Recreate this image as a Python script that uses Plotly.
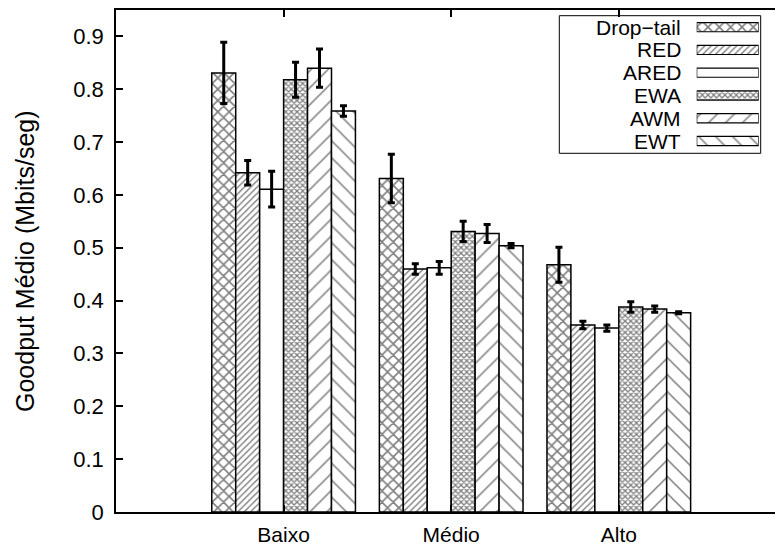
import plotly.graph_objects as go

# ---- data ----
categories = ["Baixo", "Médio", "Alto"]
series_names = ["Drop−tail", "RED", "ARED", "EWA", "AWM", "EWT"]

drop_tail = [0.831, 0.631, 0.468]
red = [0.642, 0.460, 0.354]
ared = [0.611, 0.462, 0.348]
ewa = [0.818, 0.531, 0.388]
awm = [0.840, 0.527, 0.384]
ewt = [0.759, 0.504, 0.377]

drop_tail_err = [0.058, 0.046, 0.033]
red_err = [0.023, 0.010, 0.007]
ared_err = [0.034, 0.012, 0.006]
ewa_err = [0.033, 0.019, 0.010]
awm_err = [0.036, 0.017, 0.006]
ewt_err = [0.010, 0.004, 0.002]

y_ticks = [0, 0.1, 0.2, 0.3, 0.4, 0.5, 0.6, 0.7, 0.8, 0.9]
y_ticktext = ["0", "0.1", "0.2", "0.3", "0.4", "0.5", "0.6", "0.7", "0.8", "0.9"]

values = [drop_tail, red, ared, ewa, awm, ewt]
errors = [drop_tail_err, red_err, ared_err, ewa_err, awm_err, ewt_err]

# pattern styles per series
pat_shape = ["x", "/", "", "x", "/", "\\"]
pat_size = [8, 4.5, 8, 4, 12, 12]
pat_solid = [0.36, 0.32, 0.1, 0.55, 0.13, 0.13]

FONT = "Liberation Sans, Arial, Helvetica, sans-serif"
W, H = 775, 548
L, R, T, B = 116, 0, 10, 36
pw, ph = W - L - R, H - T - B

def px_x(x):
    return (x - L) / pw

def px_y(y):
    return (H - B - y) / ph

fig = go.Figure()
xpos = [1, 2, 3]
for i, name in enumerate(series_names):
    fig.add_trace(go.Bar(
        x=xpos, y=values[i], name=name, showlegend=False,
        marker=dict(
            color="white",
            line=dict(color="black", width=1.5),
            pattern=dict(shape=pat_shape[i], size=pat_size[i], solidity=pat_solid[i],
                         fgcolor="black", bgcolor="white", fillmode="overlay"),
        ),
        error_y=dict(type="data", array=errors[i], visible=True,
                     color="black", thickness=3, width=3.5),
    ))

# legend samples (drawn as horizontal bars on a hidden sub-axis)
fig.add_trace(go.Bar(
    x=[1] * len(series_names), y=list(range(len(series_names))), orientation="h",
    width=0.4, xaxis="x2", yaxis="y2", showlegend=False,
    marker=dict(
        color="white",
        line=dict(color="black", width=1.2),
        pattern=dict(shape=pat_shape, size=pat_size, solidity=pat_solid,
                     fgcolor="black", bgcolor="white", fillmode="overlay"),
    ),
    hoverinfo="skip",
))

row0, row_step = 27.2, 22.76
annotations = []
for i, name in enumerate(series_names):
    annotations.append(dict(
        x=px_x(682), y=px_y(row0 + i * row_step), xref="paper", yref="paper",
        text=name, showarrow=False, xanchor="right", yanchor="middle",
        borderpad=0,
        font=dict(family=FONT, size=21, color="black"),
    ))
annotations.append(dict(
    x=px_x(25), y=0.5, xref="paper", yref="paper",
    text="Goodput Médio (Mbits/seg)", textangle=-90, showarrow=False,
    xanchor="center", yanchor="middle",
    font=dict(family=FONT, size=25, color="black"),
))

top_leg = row0 - row_step / 2
bot_leg = row0 + (len(series_names) - 0.5) * row_step

fig.update_layout(
    template="none",
    width=W, height=H,
    margin=dict(l=L, r=R, t=T, b=B, pad=0),
    paper_bgcolor="white", plot_bgcolor="white",
    barmode="group", bargap=1 / 7, bargroupgap=0,
    font=dict(family=FONT, size=21, color="black"),
    xaxis=dict(
        range=[0, (W - L - R) / 167.6], tickvals=xpos, ticktext=categories,
        ticks="inside", ticklen=7, tickwidth=1.5, tickcolor="black",
        showline=True, linecolor="black", linewidth=1.5, mirror="ticks",
        showgrid=False, zeroline=False, ticklabelstandoff=3,
        tickfont=dict(family=FONT, size=21, color="black"),
    ),
    yaxis=dict(
        range=[0, 0.95], tickvals=y_ticks, ticktext=y_ticktext,
        ticks="inside", ticklen=7, tickwidth=1.5, tickcolor="black",
        showline=True, linecolor="black", linewidth=1.5, mirror=False,
        showgrid=False, zeroline=False, ticklabelstandoff=6,
        tickfont=dict(family=FONT, size=22, color="black"),
    ),
    xaxis2=dict(domain=[px_x(696.7), px_x(758.7)], range=[0, 1], visible=False,
                anchor="y2", fixedrange=True),
    yaxis2=dict(domain=[px_y(bot_leg), px_y(top_leg)], range=[len(series_names) - 0.5, -0.5],
                visible=False, anchor="x2", fixedrange=True),
    shapes=[dict(type="rect", xref="paper", yref="paper",
                 x0=px_x(559.3), x1=px_x(760.7), y0=px_y(153.3), y1=px_y(15.7),
                 line=dict(color="black", width=1), fillcolor="rgba(0,0,0,0)")],
    annotations=annotations,
)

fig.write_html("out.html")
